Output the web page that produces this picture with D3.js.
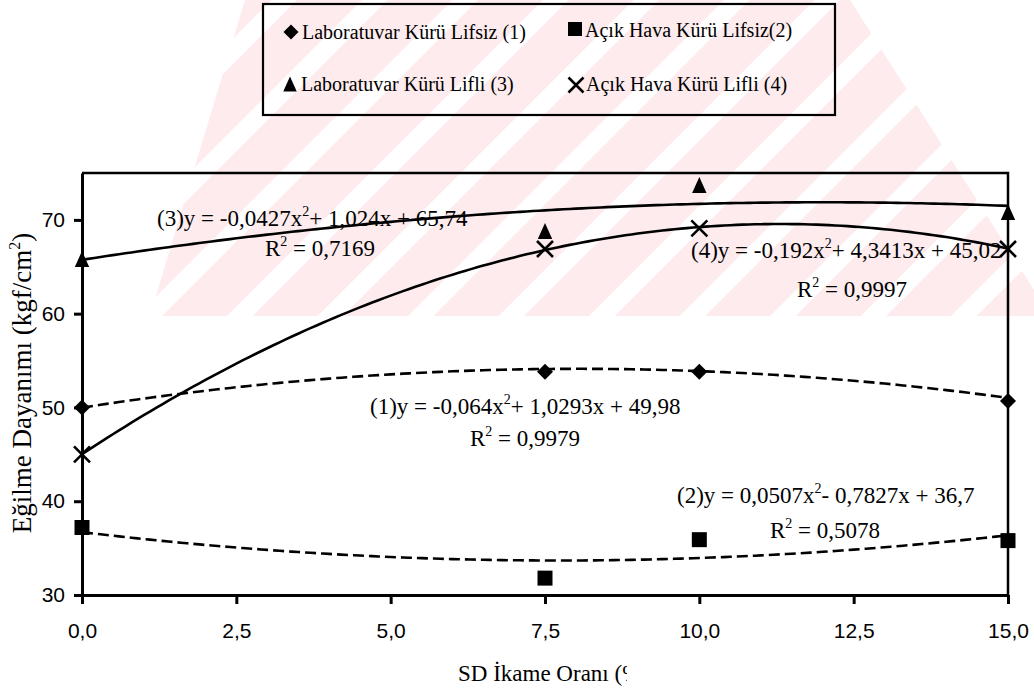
<!DOCTYPE html>
<html>
<head>
<meta charset="utf-8">
<script src="https://cdn.jsdelivr.net/npm/d3@7"></script>
<style>
  body { margin: 0; background: #fff; }
  svg { display: block; }
</style>
</head>
<body>
<svg id="chart" width="1034" height="692"></svg>
<script>
// Bending strength by SD replacement ratio
const xValues = [0, 7.5, 10, 15];
const seriesNames = [
  "Laboratuvar Kürü Lifsiz (1)",
  "Açık Hava Kürü Lifsiz(2)",
  "Laboratuvar Kürü Lifli (3)",
  "Açık Hava Kürü Lifli (4)"
];
const labLifsiz  = [50.0, 53.8, 53.8, 50.7];
const acikLifsiz = [37.2, 31.8, 35.9, 35.8];
const labLifli   = [65.7, 68.7, 73.6, 70.7];
const acikLifli  = [45.0, 66.9, 69.1, 66.9];

// quadratic trend coefficients [a, b, c] : y = a·x² + b·x + c
const trend1 = [-0.064, 1.0293, 49.98];
const trend2 = [0.0507, -0.7827, 36.7];
const trend3 = [-0.0427, 1.024, 65.74];
const trend4 = [-0.192, 4.3413, 45.02];

const eqTexts = [
  ["(1)y = -0,064x", "+ 1,0293x + 49,98", "0,9979"],
  ["(2)y = 0,0507x", "- 0,7827x + 36,7", "0,5078"],
  ["(3)y = -0,0427x", "+ 1,024x + 65,74", "0,7169"],
  ["(4)y = -0,192x", "+ 4,3413x + 45,02", "0,9997"]
];

const xTicks = [0, 2.5, 5, 7.5, 10, 12.5, 15];
const xTickLabels = ["0,0", "2,5", "5,0", "7,5", "10,0", "12,5", "15,0"];
const yTicks = [30, 40, 50, 60, 70];
const yTickLabels = ["30", "40", "50", "60", "70"];

const xTitle = "SD İkame Oranı (%)";
const yTitle = "Eğilme Dayanımı (kgf/cm";

// ---------- layout ----------
const SERIF = "'Liberation Serif', 'Times New Roman', serif";
const SANS = "'Liberation Sans', Arial, sans-serif";
const plot = { left: 82, right: 1008, top: 173, bottom: 595 };

const svg = d3.select("#chart");
const x = d3.scaleLinear().domain([0, 15]).range([plot.left, plot.right]);
const y = d3.scaleLinear().domain([30, 75]).range([plot.bottom, plot.top]);

// faint striped background stamp
const defs = svg.append("defs");
const pat = defs.append("pattern")
  .attr("id", "stamp")
  .attr("patternUnits", "userSpaceOnUse")
  .attr("width", 64).attr("height", 64)
  .attr("patternTransform", "rotate(45)");
pat.append("rect").attr("width", 64).attr("height", 64).attr("fill", "#fdebed");
pat.append("rect").attr("x", 0).attr("width", 18).attr("height", 64).attr("fill", "#ffffff");
svg.append("polygon")
  .attr("points", "245,0 850,0 1034,290 1034,316 150,316")
  .attr("fill", "url(#stamp)");

// ---------- axes ----------
const yAxis = d3.axisLeft(y)
  .tickValues(yTicks)
  .tickFormat((d, i) => yTickLabels[i])
  .tickSize(8).tickSizeOuter(0).tickPadding(9);
const xAxis = d3.axisBottom(x)
  .tickValues(xTicks)
  .tickFormat((d, i) => xTickLabels[i])
  .tickSize(9).tickSizeOuter(0).tickPadding(19);

const gy = svg.append("g").attr("transform", `translate(${plot.left},0)`).call(yAxis);
const gx = svg.append("g").attr("transform", `translate(0,${plot.bottom})`).call(xAxis);
[gx, gy].forEach(g => {
  g.attr("font-family", SANS).attr("font-size", 21);
  g.select(".domain").attr("stroke", "#000").attr("stroke-width", 3);
  g.selectAll(".tick line").attr("stroke", "#000").attr("stroke-width", 3);
  g.selectAll(".tick text").attr("fill", "#000");
});

// top and right frame
svg.append("path")
  .attr("d", `M${plot.left},${plot.top}H${plot.right}V${plot.bottom}`)
  .attr("fill", "none").attr("stroke", "#000").attr("stroke-width", 2.5);

// ---------- trend curves ----------
const line = d3.line().x(d => x(d[0])).y(d => y(d[1]));
const samples = d3.range(0, 15.0001, 0.1);
function curve(c) { return samples.map(v => [v, c[0] * v * v + c[1] * v + c[2]]); }

const trends = [
  { c: trend1, dash: "11,5" },
  { c: trend2, dash: "11,5" },
  { c: trend3, dash: null },
  { c: trend4, dash: null }
];
svg.append("g").selectAll("path").data(trends).join("path")
  .attr("d", d => line(curve(d.c)))
  .attr("fill", "none")
  .attr("stroke", "#000")
  .attr("stroke-width", 2.6)
  .attr("stroke-dasharray", d => d.dash);

// ---------- equation labels ----------
const eqPos = [
  { ex: 370, ey: 414, rx: 470, ry: 446 },
  { ex: 677, ey: 503, rx: 770, ry: 538 },
  { ex: 157, ey: 226, rx: 265, ry: 256 },
  { ex: 691, ey: 258, rx: 797, ry: 297 }
];
const eqG = svg.append("g").attr("font-family", SERIF).attr("font-size", 23).attr("fill", "#000");
eqTexts.forEach((t, i) => {
  const p = eqPos[i];
  const e = eqG.append("text").attr("x", p.ex).attr("y", p.ey);
  e.append("tspan").text(t[0]);
  e.append("tspan").attr("font-size", 14).attr("dy", -10).text("2");
  e.append("tspan").attr("dy", 10).text(t[1]);
  const r = eqG.append("text").attr("x", p.rx).attr("y", p.ry);
  r.append("tspan").text("R");
  r.append("tspan").attr("font-size", 14).attr("dy", -10).text("2");
  r.append("tspan").attr("dy", 10).text(" = " + t[2]);
});

// ---------- markers ----------
const shapes = {
  diamond: s => `M0,${-s}L${s},0L0,${s}L${-s},0Z`,
  square: s => `M${-s},${-s}H${s}V${s}H${-s}Z`,
  triangle: s => `M0,${-s * 1.15}L${s * 0.9},${s * 0.85}L${-s * 0.9},${s * 0.85}Z`,
  cross: s => `M${-s},${-s}L${s},${s}M${s},${-s}L${-s},${s}`
};
const series = [
  { vals: labLifsiz, shape: "diamond", s: 8 },
  { vals: acikLifsiz, shape: "square", s: 7.5 },
  { vals: labLifli, shape: "triangle", s: 8 },
  { vals: acikLifli, shape: "cross", s: 8 }
];
function drawMarker(g, shape, s, cx, cy) {
  const p = g.append("path")
    .attr("transform", `translate(${cx},${cy})`)
    .attr("d", shapes[shape](s));
  if (shape === "cross") p.attr("fill", "none").attr("stroke", "#000").attr("stroke-width", 2.6);
  else p.attr("fill", "#000");
}
const mg = svg.append("g");
series.forEach(sr => {
  sr.vals.forEach((v, i) => drawMarker(mg, sr.shape, sr.s, x(xValues[i]), y(v)));
});

// ---------- axis titles ----------
svg.append("clipPath").attr("id", "xtClip")
  .append("rect").attr("x", 0).attr("y", 640).attr("width", 627).attr("height", 52);
svg.append("text")
  .attr("clip-path", "url(#xtClip)")
  .attr("x", 458).attr("y", 681)
  .attr("font-family", SERIF).attr("font-size", 23)
  .text(xTitle);

const yt = svg.append("text")
  .attr("transform", "translate(31,383) rotate(-90)")
  .attr("text-anchor", "middle")
  .attr("font-family", SERIF).attr("font-size", 27);
yt.append("tspan").text(yTitle);
yt.append("tspan").attr("font-size", 16).attr("dy", -11).text("2");
yt.append("tspan").attr("dy", 11).text(")");

// ---------- legend ----------
const lg = svg.append("g");
lg.append("rect")
  .attr("x", 263).attr("y", 4).attr("width", 572).attr("height", 111)
  .attr("fill", "none").attr("stroke", "#000").attr("stroke-width", 2.2);
const legendPos = [
  { mx: 291, my: 32, tx: 302, ty: 39 },
  { mx: 575, my: 29, tx: 585, ty: 37 },
  { mx: 290, my: 85, tx: 301, ty: 91 },
  { mx: 576, my: 85, tx: 586, ty: 91 }
];
series.forEach((sr, i) => {
  const p = legendPos[i];
  drawMarker(lg, sr.shape, sr.s - 0.5, p.mx, p.my);
  lg.append("text")
    .attr("x", p.tx).attr("y", p.ty)
    .attr("font-family", SERIF).attr("font-size", 20)
    .text(seriesNames[i]);
});
</script>
</body>
</html>
